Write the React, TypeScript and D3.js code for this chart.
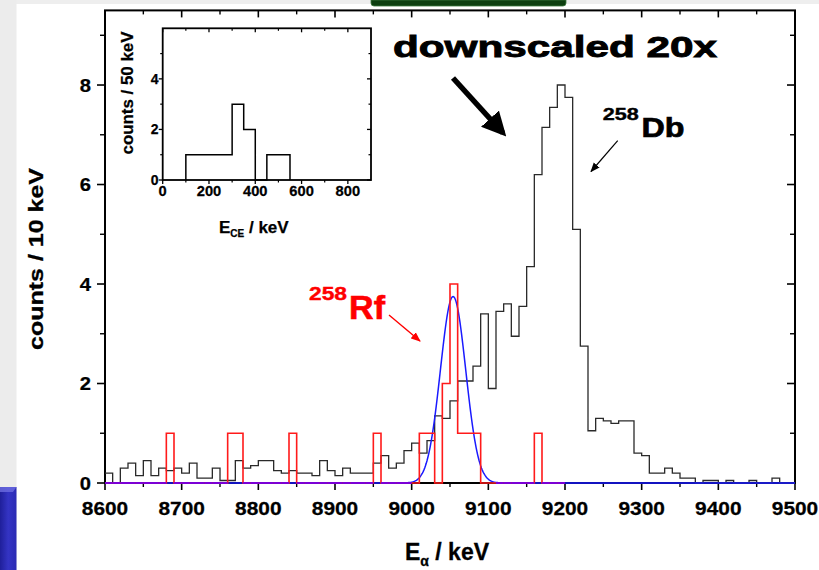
import React from "react";
import * as d3 from "d3";

// ---- data ----
const BIN_START = 8600;
const BIN_WIDTH = 10;
// 258Db spectrum (downscaled 20x), counts per 10 keV bin from 8600 keV
const dbCounts = [
  0.2, 0, 0.3, 0.4, 0.15, 0.45, 0.15, 0.3, 0.25, 0.3,
  0.2, 0.4, 0.1, 0.1, 0.3, 0.05, 0.05, 0.45, 0.3, 0.35,
  0.45, 0.45, 0.25, 0.2, 0.25, 0.2, 0.2, 0.15, 0.45, 0.25,
  0.15, 0.3, 0.2, 0.2, 0.2, 0.4, 0.55, 0.3, 0.4, 0.65,
  0.8, 0.6, 0.85, 1.35, 1.3, 1.65, 2.05, 2.05, 2.35, 3.4,
  1.9, 3.45, 3.6, 2.95, 3.55, 4.35, 6.2, 7.15, 7.55, 8.0,
  7.75, 5.1, 2.75, 1.05, 1.3, 1.25, 1.2, 1.25, 1.25, 0.6,
  0.55, 0.2, 0.2, 0.3, 0.2, 0.1, 0.1, 0, 0.05, 0.05,
  0, 0.05, 0, 0, 0.05, 0, 0, 0.1, 0, 0,
];
// 258Rf spectrum, counts per 10 keV bin from 8600 keV
const rfCounts = [
  0, 0, 0, 0, 0, 0, 0, 0, 1, 0,
  0, 0, 0, 0, 0, 0, 1, 1, 0, 0,
  0, 0, 0, 0, 1, 0, 0, 0, 0, 0,
  0, 0, 0, 0, 0, 1, 0, 0, 0, 0,
  0, 1, 1, 0, 2, 4, 1, 1, 1, 0,
  0, 0, 0, 0, 0, 0, 1, 0, 0, 0,
];
// Gaussian fit to 258Rf
const FIT_AMPLITUDE = 3.75;
const FIT_CENTER = 9054;
const FIT_SIGMA = 16.5;

// Inset: conversion-electron spectrum, 50 keV bins
const ceEdges = [100, 150, 200, 250, 300, 350, 400, 450, 500, 550];
const ceCounts = [1, 1, 1, 1, 3, 2, 0, 1, 1];

const xTicksMajor = [8600, 8700, 8800, 8900, 9000, 9100, 9200, 9300, 9400, 9500];
const xTicksMinor = [8650, 8750, 8850, 8950, 9050, 9150, 9250, 9350, 9450];
const yTicksMajor = [0, 2, 4, 6, 8];
const yTicksMinor = [1, 3, 5, 7, 9];
const insetXMajor = [0, 200, 400, 600, 800];
const insetXMinor = [100, 300, 500, 700];
const insetYMajor = [0, 2, 4];
const insetYMinor = [1, 3, 5];

const FONT = "'Liberation Sans', Arial, Helvetica, sans-serif";

function gauss(e: number) {
  return FIT_AMPLITUDE * Math.exp(-0.5 * ((e - FIT_CENTER) / FIT_SIGMA) ** 2);
}

type TProps = {
  x: number;
  y: number;
  sx?: number;
  size: number;
  anchor?: "start" | "middle" | "end";
  fill?: string;
  children: React.ReactNode;
};
function T({ x, y, sx = 1, size, anchor = "start", fill = "#000", children }: TProps) {
  return (
    <text
      transform={`translate(${x},${y}) scale(${sx},1)`}
      textAnchor={anchor}
      fontSize={size}
      fontWeight="bold"
      fill={fill}
      stroke={fill}
      strokeWidth={0.25}
    >
      {children}
    </text>
  );
}

export default function App() {
  const W = 819;
  const H = 570;
  const x = d3.scaleLinear().domain([8600, 9500]).range([105, 795]);
  const y = d3.scaleLinear().domain([0, 9.5]).range([483, 10.4]);

  const ix = d3.scaleLinear().domain([0, 900]).range([162.7, 371]);
  const iy = d3.scaleLinear().domain([0, 6]).range([180, 28.3]);

  const stepLine = d3
    .line<[number, number]>()
    .x((d) => x(d[0]))
    .y((d) => y(d[1]))
    .curve(d3.curveStepAfter);

  const histPts = (vals: number[]) => {
    const pts: [number, number][] = vals.map((v, i) => [BIN_START + i * BIN_WIDTH, v]);
    pts.push([BIN_START + vals.length * BIN_WIDTH, vals[vals.length - 1]]);
    return pts;
  };

  const dbPath = stepLine(histPts(dbCounts)) || "";
  const rfPath = stepLine(histPts(rfCounts)) || "";

  const gaussPts: [number, number][] = d3
    .range(8600, 9500.01, 1)
    .map((e) => [e, gauss(e)]);
  const gaussPath =
    d3
      .line<[number, number]>()
      .x((d) => x(d[0]))
      .y((d) => y(d[1]))(gaussPts) || "";

  // overlap (red baseline + blue fit baseline) segments rendered purple
  const overlap = rfCounts
    .map((v, i) => ({ v, e0: BIN_START + i * BIN_WIDTH, e1: BIN_START + (i + 1) * BIN_WIDTH }))
    .filter((b) => b.v === 0 && gauss(b.e0) < 0.04 && gauss(b.e1) < 0.04);

  // inset path
  const insetPts: [number, number][] = [[ceEdges[0], 0]];
  ceCounts.forEach((v, i) => {
    insetPts.push([ceEdges[i], v]);
    insetPts.push([ceEdges[i + 1], v]);
  });
  insetPts.push([ceEdges[ceEdges.length - 1], 0]);
  const insetPath =
    d3
      .line<[number, number]>()
      .x((d) => ix(d[0]))
      .y((d) => iy(d[1]))(insetPts) || "";

  const [x0, x1] = x.range();
  const [yb, yt] = y.range();
  const [ix0, ix1] = ix.range();
  const [iyb, iyt] = iy.range();

  return (
    <svg
      width={W}
      height={H}
      viewBox={`0 0 ${W} ${H}`}
      style={{ position: "absolute", left: 0, top: 0, background: "#fff" }}
      fontFamily={FONT}
    >
      <defs>
        <linearGradient id="blueBox" x1="0" y1="0" x2="1" y2="0">
          <stop offset="0" stopColor="#1f1f9a" />
          <stop offset="0.5" stopColor="#3434c4" />
          <stop offset="1" stopColor="#2a2ab4" />
        </linearGradient>
        <marker id="arrBig" viewBox="0 0 10 10" refX="8" refY="5" markerWidth="4.4" markerHeight="4.4" orient="auto" markerUnits="strokeWidth">
          <path d="M0,0 L10,5 L0,10 z" fill="#000" />
        </marker>
        <marker id="arrBlk" viewBox="0 0 10 10" refX="9" refY="5" markerWidth="8" markerHeight="8" orient="auto" markerUnits="strokeWidth">
          <path d="M0,1 L10,5 L0,9 z" fill="#000" />
        </marker>
        <marker id="arrRed" viewBox="0 0 10 10" refX="9" refY="5" markerWidth="7" markerHeight="7" orient="auto" markerUnits="strokeWidth">
          <path d="M0,1 L10,5 L0,9 z" fill="#ff0000" />
        </marker>
      </defs>

      {/* slide decorations */}
      <rect x={0} y={0} width={W} height={4} fill="#eeeeee" />
      <rect x={0} y={0} width={16.5} height={H} fill="#ececec" />
      <rect x={0} y={487} width={16.5} height={H - 487} fill="url(#blueBox)" />
      <path d="M0,487 L16.5,487 L13,492 L0,492 z" fill="#6b6be0" opacity={0.8} />
      <path d={`M371,0 L566,0 L566,3 Q566,6 563,6 L374,6 Q371,6 371,3 z`} fill="#0d3f10" stroke="#3e7a40" strokeWidth={0.8} />

      {/* main frame */}
      <rect x={x0} y={yt} width={x1 - x0} height={yb - yt} fill="none" stroke="#000" strokeWidth={2} />
      {xTicksMajor.map((t) => (
        <g key={"xM" + t}>
          <line x1={x(t)} x2={x(t)} y1={yb} y2={yb + 7} stroke="#000" strokeWidth={1.6} />
          <line x1={x(t)} x2={x(t)} y1={yt} y2={yt + 7} stroke="#000" strokeWidth={1.6} />
          <T x={x(t)} y={515} size={18} sx={1.16} anchor="middle">
            {t}
          </T>
        </g>
      ))}
      {xTicksMinor.map((t) => (
        <g key={"xm" + t}>
          <line x1={x(t)} x2={x(t)} y1={yb} y2={yb + 4} stroke="#000" strokeWidth={1.4} />
          <line x1={x(t)} x2={x(t)} y1={yt} y2={yt + 4} stroke="#000" strokeWidth={1.4} />
        </g>
      ))}
      {yTicksMajor.map((t) => (
        <g key={"yM" + t}>
          <line x1={x0 - 8} x2={x0} y1={y(t)} y2={y(t)} stroke="#000" strokeWidth={1.6} />
          <line x1={x1 - 8} x2={x1} y1={y(t)} y2={y(t)} stroke="#000" strokeWidth={1.6} />
          <T x={91} y={y(t) + 6.5} size={18} sx={1.12} anchor="end">
            {t}
          </T>
        </g>
      ))}
      {yTicksMinor.map((t) => (
        <g key={"ym" + t}>
          <line x1={x0 - 5} x2={x0} y1={y(t)} y2={y(t)} stroke="#000" strokeWidth={1.4} />
          <line x1={x1 - 5} x2={x1} y1={y(t)} y2={y(t)} stroke="#000" strokeWidth={1.4} />
        </g>
      ))}

      {/* main spectra (drawn over the frame so the baseline colours show) */}
      <path d={dbPath} fill="none" stroke="#2a2a2a" strokeWidth={1.3} />
      <path d={gaussPath} fill="none" stroke="#1a1aff" strokeWidth={1.5} />
      <path d={rfPath} fill="none" stroke="#ff1a1a" strokeWidth={1.6} />
      {overlap.map((b, i) => (
        <line key={i} x1={x(b.e0)} x2={x(b.e1)} y1={y(0)} y2={y(0)} stroke="#7b00d6" strokeWidth={2} />
      ))}

      {/* axis titles */}
      <text
        transform="translate(43,259) rotate(-90)"
        textAnchor="middle"
        fontSize={21}
        fontWeight="bold"
        stroke="#000"
        strokeWidth={0.3}
        textLength={182}
        lengthAdjust="spacingAndGlyphs"
      >
        counts / 10 keV
      </text>
      <text x={405} y={560} fontSize={23} fontWeight="bold" stroke="#000" strokeWidth={0.3}>
        E<tspan fontSize={14} dy={6}>α</tspan>
        <tspan dy={-6}> / keV</tspan>
      </text>

      {/* annotations */}
      <text x={393} y={56.7} fontSize={30} fontWeight="bold" stroke="#000" strokeWidth={0.9} textLength={324} lengthAdjust="spacingAndGlyphs">
        downscaled 20x
      </text>
      <line x1={453} y1={78} x2={503} y2={133} stroke="#000" strokeWidth={5.5} markerEnd="url(#arrBig)" />

      <text x={602.7} y={120} fontSize={17} fontWeight="bold" stroke="#000" strokeWidth={0.4} textLength={36} lengthAdjust="spacingAndGlyphs">
        258
      </text>
      <text x={641.5} y={136.7} fontSize={28} fontWeight="bold" stroke="#000" strokeWidth={0.7} textLength={43} lengthAdjust="spacingAndGlyphs">
        Db
      </text>
      <line x1={617.7} y1={140.7} x2={591} y2={171.5} stroke="#000" strokeWidth={1.2} markerEnd="url(#arrBlk)" />

      <text x={309} y={300} fontSize={19} fontWeight="bold" fill="#ff0000" stroke="#ff0000" strokeWidth={0.4} textLength={38} lengthAdjust="spacingAndGlyphs">
        258
      </text>
      <text x={349} y={318.5} fontSize={34} fontWeight="bold" fill="#ff0000" stroke="#ff0000" strokeWidth={0.6} textLength={36} lengthAdjust="spacingAndGlyphs">
        Rf
      </text>
      <line x1={389} y1={315} x2={420} y2={341} stroke="#ff0000" strokeWidth={1.4} markerEnd="url(#arrRed)" />

      {/* inset */}
      <rect x={ix0} y={iyt} width={ix1 - ix0} height={iyb - iyt} fill="#fff" stroke="none" />
      <path d={insetPath} fill="none" stroke="#000" strokeWidth={1.5} />
      <rect x={ix0} y={iyt} width={ix1 - ix0} height={iyb - iyt} fill="none" stroke="#000" strokeWidth={1.8} />
      {insetXMajor.map((t) => (
        <g key={"ixM" + t}>
          <line x1={ix(t)} x2={ix(t)} y1={iyb} y2={iyb + 4} stroke="#000" strokeWidth={1.3} />
          <line x1={ix(t)} x2={ix(t)} y1={iyt} y2={iyt + 4} stroke="#000" strokeWidth={1.3} />
          <T x={ix(t)} y={196} size={14} sx={1.05} anchor="middle">
            {t}
          </T>
        </g>
      ))}
      {insetXMinor.map((t) => (
        <g key={"ixm" + t}>
          <line x1={ix(t)} x2={ix(t)} y1={iyb} y2={iyb + 2.5} stroke="#000" strokeWidth={1.2} />
          <line x1={ix(t)} x2={ix(t)} y1={iyt} y2={iyt + 2.5} stroke="#000" strokeWidth={1.2} />
        </g>
      ))}
      {insetYMajor.map((t) => (
        <g key={"iyM" + t}>
          <line x1={ix0 - 4} x2={ix0} y1={iy(t)} y2={iy(t)} stroke="#000" strokeWidth={1.3} />
          <line x1={ix1 - 4} x2={ix1} y1={iy(t)} y2={iy(t)} stroke="#000" strokeWidth={1.3} />
          <T x={158.5} y={iy(t) + 5} size={14} anchor="end">
            {t}
          </T>
        </g>
      ))}
      {insetYMinor.map((t) => (
        <g key={"iym" + t}>
          <line x1={ix0 - 2.5} x2={ix0} y1={iy(t)} y2={iy(t)} stroke="#000" strokeWidth={1.2} />
          <line x1={ix1 - 2.5} x2={ix1} y1={iy(t)} y2={iy(t)} stroke="#000" strokeWidth={1.2} />
        </g>
      ))}
      <text
        transform="translate(133,93) rotate(-90)"
        textAnchor="middle"
        fontSize={16}
        fontWeight="bold"
        stroke="#000"
        strokeWidth={0.25}
        textLength={123}
        lengthAdjust="spacingAndGlyphs"
      >
        counts / 50 keV
      </text>
      <text x={219} y={232.5} fontSize={17} fontWeight="bold" stroke="#000" strokeWidth={0.25}>
        E<tspan fontSize={10} dy={4}>CE</tspan>
        <tspan dy={-4}> / keV</tspan>
      </text>
    </svg>
  );
}
